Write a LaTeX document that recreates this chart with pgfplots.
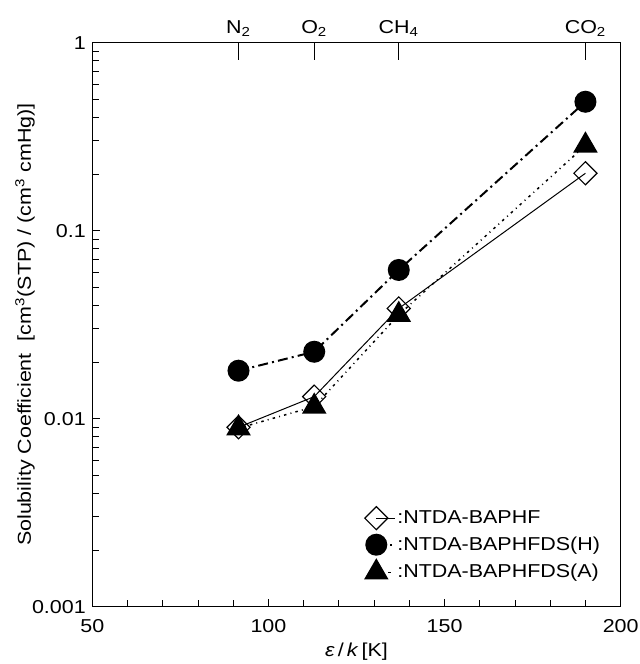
\documentclass[border=0pt]{standalone}
\usepackage{fontspec}
\setmainfont[FakeStretch=1.15]{Liberation Sans}
\usepackage{pgfplots}
\usepackage{pgfplotstable}
\pgfplotsset{compat=1.18}

\pgfplotstableread{
x y
91.5 0.0090
113 0.0131
137 0.0386
190 0.202
}\baphf
\pgfplotstableread{
x y
91.5 0.0180
113 0.0227
137 0.0618
190 0.485
}\dsh
\pgfplotstableread{
x y
91.5 0.0089
113 0.0116
137 0.0357
190 0.284
}\dsa

\begin{document}
\fontsize{11.2}{13.4}\selectfont
\begin{tikzpicture}
\begin{axis}[
  name=main,
  scale only axis,
  width=317pt, height=338.4pt,
  xmin=50, xmax=200,
  ymode=log, ymin=0.001, ymax=1,
  xtick={50,100,150,200},
  xticklabels={50,100,150,200},
  minor x tick num=4,
  ytick={0.001,0.01,0.1,1},
  yticklabels={0.001,0.01,0.1,1},
  xtick pos=bottom, ytick pos=left,
  tick align=inside,
  major tick length=4.8pt, minor tick length=4pt,
  axis line style={line width=0.8pt},
  every tick/.style={black, line width=0.6pt},
  xticklabel style={font=\fontsize{11.2}{13.4}\selectfont, yshift=-4pt},
  yticklabel style={font=\fontsize{11.2}{13.4}\selectfont},
  xlabel={\textit{ε}\,/\,\textit{k}\,[K]},
  xlabel style={at={(rel axis cs:0.5,0)}, anchor=center, yshift=-27pt, font=\fontsize{11.2}{13.4}\selectfont},
  ylabel={Solubility Coefficient~~[cm\textsuperscript{3}(STP) / (cm\textsuperscript{3} cmHg)]},
  ylabel style={at={(rel axis cs:0,0.5)}, anchor=center, yshift=40.4pt, font=\fontsize{11.2}{13.4}\selectfont},
  legend style={at={(rel axis cs:0.515,0.178)}, anchor=north west, draw=none, fill=none,
    inner sep=0pt, row sep=3pt, font=\fontsize{11.2}{13.4}\selectfont,
    nodes={inner sep=1pt}},
  legend cell align=left,
  legend image code/.code={\draw[#1] plot coordinates {(0.3cm,0cm)};\path (0.3cm,0cm) -- ++(11pt,0pt);},
]
\addplot[black, line width=0.6pt, mark=square, mark size=4.9pt,
  mark options={solid, rotate=45, fill=white, line width=0.7pt}] table {\baphf};
\addlegendentry{:NTDA-BAPHF}
\addplot[black, line width=1.2pt, dash pattern={on 6pt off 2.5pt on 1.2pt off 2.5pt}, mark=*, mark size=6pt,
  mark options={solid, fill=black}] table {\dsh};
\addlegendentry{:NTDA-BAPHFDS(H)}
\addplot[black, line width=0.9pt, dash pattern={on 1.5pt off 2.5pt on 0.6pt off 2.5pt}, mark=triangle*, mark size=7.6pt,
  mark options={solid, fill=black}] table {\dsa};
\addlegendentry{:NTDA-BAPHFDS(A)}
\end{axis}
\begin{axis}[
  scale only axis,
  width=317pt, height=338.4pt,
  xmin=50, xmax=200, ymin=0, ymax=1,
  axis x line*=top, axis y line=none,
  xtick={91.5,113,137,190},
  xticklabels={N\textsubscript{2},O\textsubscript{2},CH\textsubscript{4},CO\textsubscript{2}},
  tick align=inside, major tick length=10.5pt,
  axis line style={line width=0.8pt},
  every tick/.style={black, line width=0.6pt},
  xticklabel style={font=\fontsize{11.2}{13.4}\selectfont},
]
\end{axis}
\pgfresetboundingbox
\path ([shift={(-55.4pt,-34.4pt)}]main.south west) rectangle ([shift={(11pt,25.6pt)}]main.north east);
\end{tikzpicture}
\end{document}
